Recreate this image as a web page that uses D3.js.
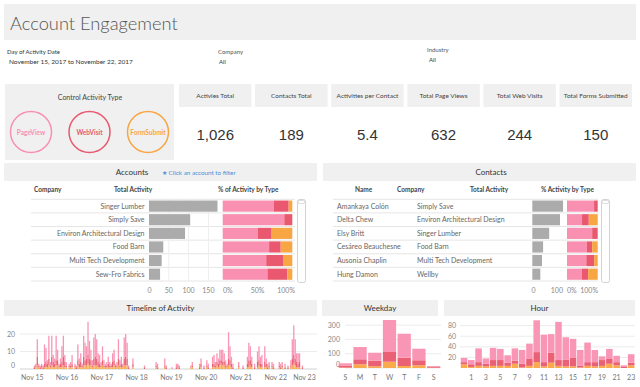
<!DOCTYPE html>
<html><head><meta charset="utf-8">
<script src="https://cdn.jsdelivr.net/npm/d3@7"></script>
<style>
body{margin:0;background:#fff;}
svg{display:block;font-family:Lato,"Open Sans",sans-serif;}
</style></head><body>
<svg id="c" width="640" height="387"></svg>
<script>
// ---------- DATA ----------
const typeNames = ["PageView","WebVisit","FormSubmit"];
const kpiLabels = ["Activies Total","Contacts Total","Activities per Contact","Total Page Views","Total Web Visits","Total Forms Submitted"];
const kpiValues = ["1,026","189","5.4","632","244","150"];

const accCompany = ["Singer Lumber","Simply Save","Environ Architectural Design","Food Barn","Multi Tech Development","Sew-Fro Fabrics"];
const accTotal = [173,104,91,36,32,28];
const accPage = [127,92,46,24,20,18];
const accWeb  = [37,12,18,6,8,8];
const accForm = [9,0,27,6,4,2];
const accTicks = [0,50,100,150];

const conName = ["Amankaya Colón","Delta Chew","Elsy Britt","Cesáreo Beauchesne","Ausonia Chaplin","Hung Damon"];
const conCompany = ["Simply Save","Environ Architectural Design","Singer Lumber","Food Barn","Multi Tech Development","Wellby"];
const conTotal = [111,100,61,39,35,29];
const conPage = [98,49,50,25,22,14];
const conWeb  = [13,22,11,7,9,6];
const conForm = [0,29,0,7,4,9];
const conTicks = [0,100];

// timeline: hours since Nov 15 2017 00:00
const tlHour = [1,2,3,4,5,6,7,8,9,10,11,12,13,14,15,16,17,18,19,20,21,22,23,
  25,26,27,29,30,31,32,33,34,35,36,37,38,39,40,41,42,43,44,45,46,47,
  48,49,50,51,52,53,54,55,56,57,58,59,60,61,62,63,64,65,66,69,
  77,85,86,91,92,96,
  99,100,101,109,110,115,116,118,
  120,121,124,125,126,127,128,129,130,131,132,133,134,135,136,137,138,142,
  145,148,149,150,151,153,155,156,157,158,160,161,162,163,165,166,
  170,171,172,174,176,178,179,180,181,182,183,184,186];
const tlPage = [1,1,10,1,1,1,1,11,8,2,13,2,12,4,3,14,6,1,3,9,12,4,2,
  1,2,5,1,1,9,3,5,1,12,10,7,19,10,6,3,12,13,11,5,5,2,
  8,3,1,2,4,2,1,5,6,1,2,11,3,4,1,12,13,9,1,3,
  1,2,2,4,1,1,
  2,1,1,1,2,2,3,1,
  3,2,4,5,2,5,3,6,6,7,5,3,1,15,8,4,2,2,
  1,4,10,8,4,2,6,8,4,5,9,3,2,2,2,2,
  2,2,2,2,1,3,11,17,11,5,6,5,1];
const tlWeb = [1,1,5,1,1,1,1,2,3,2,4,1,5,3,2,3,3,1,2,3,5,3,1,
  1,1,2,1,1,3,2,3,1,5,3,4,5,4,3,1,4,5,4,3,2,1,
  3,1,1,1,2,1,1,3,3,1,1,4,1,2,1,4,5,4,1,2,
  1,1,1,1,1,0,
  1,1,1,0,1,1,2,1,
  1,1,2,2,1,2,2,3,2,2,2,1,1,4,3,2,1,1,
  1,2,4,3,2,1,3,3,2,2,3,2,1,1,1,1,
  1,1,1,1,1,1,4,5,4,3,2,3,1];
const tlForm = [0,1,2,1,0,1,0,1,1,1,2,1,2,1,1,2,2,1,1,1,2,1,1,
  1,1,1,1,0,2,1,1,1,2,2,2,3,2,2,1,2,2,2,1,1,1,
  2,1,1,1,1,1,1,1,2,1,1,2,1,1,1,2,2,2,0,1,
  0,1,0,1,0,0,
  0,1,0,1,1,0,1,0,
  1,0,1,1,1,2,1,2,3,2,2,1,1,2,2,1,0,1,
  0,1,1,2,1,0,1,2,1,1,1,1,0,1,1,0,
  1,0,1,0,0,1,2,3,2,1,1,1,0];
const tlTicks = [0,10,20];

const wdLabels = ["S","M","T","W","T","F","S"];
const wdPage = [16,86,56,224,168,81,6];
const wdWeb  = [14,35,39,68,58,35,6];
const wdForm = [3,26,12,44,14,19,2];
const wdTicks = [0,100,200,300];

const hrPage = [8,8,26,10,23,21,14,23,26,28,60,52,35,72,42,36,30,37,23,7,19,12,2,16];
const hrWeb  = [4,5,7,5,11,11,6,6,7,14,19,8,19,11,13,16,3,7,8,11,9,6,3,5];
const hrForm = [7,2,4,3,4,4,4,8,1,4,11,3,10,4,3,3,1,4,3,4,8,5,0,5];
const hrTicks = [20,40,60,80];

// ---------- STYLE ----------
const col = {PageView:"#F98FB1", WebVisit:"#E9586E", FormSubmit:"#F8A543"};
const band = "#F0F0F0";
const svg = d3.select("#c");
svg.append("rect").attr("width",640).attr("height",387).attr("fill","#fff");

function txt(g,x,y,s,opt={}){
  return g.append("text").attr("x",x).attr("y",y).text(s)
    .attr("font-size",opt.size||7).attr("fill",opt.fill||"#333")
    .attr("text-anchor",opt.anchor||"start")
    .attr("font-weight",opt.weight||"normal")
    .attr("font-family",opt.family||null);
}

// title
svg.append("rect").attr("x",4).attr("y",4).attr("width",632).attr("height",36).attr("fill",band);
txt(svg,10,30,"Account Engagement",{size:18.3,fill:"#555",weight:300});

// filters
txt(svg,7,54,"Day of Activity Date",{size:6,fill:"#333"});
txt(svg,9,64,"November 15, 2017 to November 22, 2017",{size:6.5,fill:"#333"});
txt(svg,218,54,"Company",{size:6,fill:"#555"});
txt(svg,219,64,"All",{size:6,fill:"#333"});
txt(svg,427,52,"Industry",{size:6,fill:"#555"});
txt(svg,429,62,"All",{size:6,fill:"#333"});

// control box
svg.append("rect").attr("x",5).attr("y",84).attr("width",169).attr("height",76).attr("fill",band);
txt(svg,90,100,"Control Activity Type",{size:7,anchor:"middle",fill:"#444"});
const cx = d3.scalePoint().domain(typeNames).range([31,148]);
typeNames.forEach(t=>{
  svg.append("circle").attr("cx",cx(t)).attr("cy",132).attr("r",20.5)
    .attr("fill","none").attr("stroke",col[t]).attr("stroke-width",1.5);
  txt(svg,cx(t),134.5,t,{size:6.5,anchor:"middle",fill:col[t],weight:"bold"});
});

// KPIs
const kx = d3.scaleBand().domain(kpiLabels).range([179,632]).paddingInner(0.048);
kpiLabels.forEach((k,i)=>{
  svg.append("rect").attr("x",kx(k)).attr("y",84).attr("width",kx.bandwidth()).attr("height",23).attr("fill",band);
  txt(svg,kx(k)+kx.bandwidth()/2,98,k,{size:6.5,anchor:"middle",fill:"#444"});
  txt(svg,kx(k)+kx.bandwidth()/2,139.5,kpiValues[i],{size:15,anchor:"middle",fill:"#333",family:"'Liberation Sans',Arial,sans-serif"});
});

// ---------- TABLES ----------
function header(x,w){
  svg.append("rect").attr("x",x).attr("y",163).attr("width",w).attr("height",18).attr("fill",band);
}
function stackRow(g,y,h,x0,x1,p,w,f,tot){
  const s = d3.scaleLinear().domain([0,tot]).range([x0,x1]);
  const segs=[["PageView",0,p],["WebVisit",p,p+w],["FormSubmit",p+w,p+w+f]];
  segs.forEach(([t,a,b])=>{ if(b>a) g.append("rect").attr("x",s(a)).attr("y",y).attr("width",s(b)-s(a)).attr("height",h).attr("fill",col[t]);});
}
function scrollbar(x){
  svg.append("rect").attr("x",x).attr("y",199.5).attr("width",8).attr("height",83).attr("rx",2)
    .attr("fill","#fff").attr("stroke","#c8c8c8").attr("stroke-width",0.8);
  svg.append("rect").attr("x",x+1).attr("y",200.5).attr("width",6).attr("height",3).attr("rx",1)
    .attr("fill","#fff").attr("stroke","#c8c8c8").attr("stroke-width",0.6);
}

// Accounts
header(4,313);
txt(svg,132,175,"Accounts",{size:8,anchor:"middle",fill:"#333"});
txt(svg,162,174.5,"★ Click an account to filter",{size:6.3,fill:"#4A8FD8"});
txt(svg,34,192,"Company",{size:6.5,weight:"bold",fill:"#444"});
txt(svg,114,192,"Total Activity",{size:6.5,weight:"bold",fill:"#444"});
txt(svg,218,192,"% of Activity by Type",{size:6.5,weight:"bold",fill:"#444"});
const ay = d3.scaleBand().domain(accCompany).range([199.3,281]).paddingInner(0.18).paddingOuter(0.09);
const ax = d3.scaleLinear().domain([0,150]).range([149,208.4]);
const rowStep = ay.step();
accCompany.forEach((c,i)=>{
  const top = 199.3 + i*rowStep;
  svg.append("line").attr("x1",31).attr("x2",295).attr("y1",top).attr("y2",top).attr("stroke","#e6e6e6");
});
svg.append("line").attr("x1",31).attr("x2",295).attr("y1",281).attr("y2",281).attr("stroke","#e6e6e6");
accTicks.slice(1).forEach(t=>svg.append("line").attr("x1",ax(t)).attr("x2",ax(t)).attr("y1",199.3).attr("y2",281).attr("stroke","#eeeeee"));
accCompany.forEach((c,i)=>{
  txt(svg,144.5,ay(c)+ay.bandwidth()/2+2.5,c,{size:7,anchor:"end",fill:"#666"});
  svg.append("rect").attr("x",ax(0)).attr("y",ay(c)).attr("width",ax(accTotal[i])-ax(0)).attr("height",ay.bandwidth()).attr("fill","#ABABAB");
  stackRow(svg,ay(c),ay.bandwidth(),222.7,292.3,accPage[i],accWeb[i],accForm[i],accTotal[i]);
});
accTicks.forEach(t=>txt(svg,ax(t)+(t===0?0.5:0),293,t,{size:7,anchor:"middle",fill:"#888"}));
txt(svg,223,293,"0%",{size:7,fill:"#888"});
txt(svg,257.5,293,"50%",{size:7,anchor:"middle",fill:"#888"});
txt(svg,295,293,"100%",{size:7,anchor:"end",fill:"#888"});
scrollbar(297.5);

// Contacts
header(323,313);
txt(svg,491,175,"Contacts",{size:8,anchor:"middle",fill:"#333"});
txt(svg,355,192,"Name",{size:6.5,weight:"bold",fill:"#444"});
txt(svg,397,192,"Company",{size:6.5,weight:"bold",fill:"#444"});
txt(svg,470,192,"Total Activity",{size:6.5,weight:"bold",fill:"#444"});
txt(svg,541,192,"% Activity by Type",{size:6.5,weight:"bold",fill:"#444"});
const cy = d3.scaleBand().domain(conName).range([199.3,281]).paddingInner(0.18).paddingOuter(0.09);
const cxs = d3.scaleLinear().domain([0,100]).range([532.3,560]);
conName.forEach((c,i)=>{
  const top = 199.3 + i*rowStep;
  svg.append("line").attr("x1",333).attr("x2",598).attr("y1",top).attr("y2",top).attr("stroke","#e6e6e6");
});
svg.append("line").attr("x1",333).attr("x2",598).attr("y1",281).attr("y2",281).attr("stroke","#e6e6e6");
conName.forEach((c,i)=>{
  const yy = cy(c)+cy.bandwidth()/2+2.5;
  txt(svg,337,yy,c,{size:7,fill:"#666"});
  txt(svg,417,yy,conCompany[i],{size:7,fill:"#666"});
  svg.append("rect").attr("x",cxs(0)).attr("y",cy(c)).attr("width",cxs(conTotal[i])-cxs(0)).attr("height",cy.bandwidth()).attr("fill","#ABABAB");
  stackRow(svg,cy(c),cy.bandwidth(),567,597.7,conPage[i],conWeb[i],conForm[i],conTotal[i]);
});
txt(svg,533.5,293,"0",{size:7,anchor:"middle",fill:"#888"});
txt(svg,563,293,"100",{size:7,anchor:"end",fill:"#888"});
txt(svg,567,293,"0%",{size:7,fill:"#888"});
txt(svg,598,293,"100%",{size:7,anchor:"end",fill:"#888"});
scrollbar(601.5);

// ---------- BOTTOM CHARTS ----------
function panel(x,w,label){
  svg.append("rect").attr("x",x).attr("y",300).attr("width",w).attr("height",16).attr("fill",band);
  txt(svg,x+w/2,311,label,{size:8,anchor:"middle",fill:"#333"});
}
function yAxis(y,ticks,xr,x0,x1,showGrid){
  ticks.forEach(t=>{
    if(showGrid) svg.append("line").attr("x1",x0).attr("x2",x1).attr("y1",y(t)).attr("y2",y(t)).attr("stroke","#ececec");
    txt(svg,xr,y(t)+2.5-(t===0?4:0),t,{size:7,anchor:"end",fill:"#888"});
  });
}
function stackBar(x,w,y,p,we,f){
  const segs=[["FormSubmit",0,f],["WebVisit",f,f+we],["PageView",f+we,f+we+p]];
  segs.forEach(([t,a,b])=>{ if(b>a) svg.append("rect").attr("x",x).attr("y",y(b)).attr("width",w).attr("height",y(a)-y(b)).attr("fill",col[t]).attr("fill-opacity",0.95);});
}

// Timeline
panel(4,313,"Timeline of Activity");
const t0 = new Date(2017,10,15), t1 = new Date(2017,10,23);
const tx = d3.scaleTime().domain([t0,t1]).range([32.3,310.5]);
const ty = d3.scaleLinear().domain([0,29]).range([369,318.25]);
yAxis(ty,tlTicks,15,20,317,true);
svg.append("line").attr("x1",20).attr("x2",317).attr("y1",369).attr("y2",369).attr("stroke","#dcdcdc");
tlHour.forEach((h,i)=>{
  const d = d3.timeHour.offset(t0,h);
  stackBar(tx(d),1.3,ty,tlPage[i],tlWeb[i],tlForm[i]);
});
const days = d3.timeDay.range(t0,d3.timeDay.offset(t1,1));
days.forEach((d,i)=>{
  const last = i===days.length-1;
  txt(svg,tx(d)-(last?6:0),380,d3.timeFormat("%b %-d")(d),{size:7,anchor:"middle",fill:"#777"});
});

// Weekday
panel(322,116,"Weekday");
const wx = d3.scaleBand().domain(d3.range(7)).range([338,441]).paddingInner(0.1).paddingOuter(0.05);
const wy = d3.scaleLinear().domain([0,350]).range([368,318]);
yAxis(wy,wdTicks,340,345,441,true);
d3.range(7).forEach(i=>{
  stackBar(wx(i),wx.bandwidth(),wy,wdPage[i],wdWeb[i],wdForm[i]);
  txt(svg,wx(i)+wx.bandwidth()/2,380,wdLabels[i],{size:7,anchor:"middle",fill:"#777"});
});

// Hour
panel(444,191,"Hour");
const hx = d3.scaleBand().domain(d3.range(24)).range([460.4,634.8]).paddingInner(0.1).paddingOuter(0.05);
const hy = d3.scaleLinear().domain([0,94]).range([368,318.2]);
yAxis(hy,hrTicks,456,460,635,true);
d3.range(24).forEach(h=>{
  stackBar(hx(h),hx.bandwidth(),hy,hrPage[h],hrWeb[h],hrForm[h]);
  if(h%2===1) txt(svg,hx(h)+hx.bandwidth()/2,380,h,{size:7,anchor:"middle",fill:"#777"});
});
</script>
</body></html>
